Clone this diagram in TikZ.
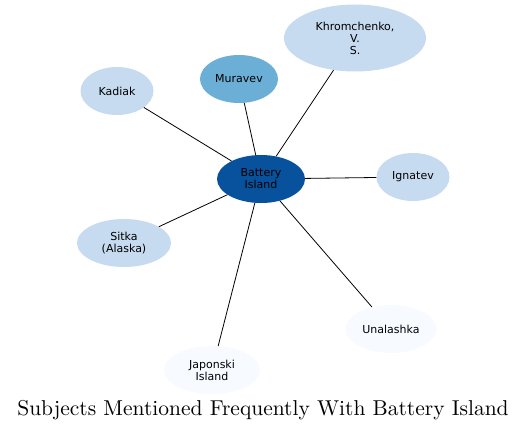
\documentclass[tikz,border=0pt]{standalone}
\usepackage{fontspec}
\newfontfamily\dejavu{DejaVu Sans}
\newfontfamily\titlefont{lmroman10-regular}[Extension=.otf]
\usetikzlibrary{shapes.geometric}

\definecolor{hub}{HTML}{08519C}
\definecolor{mid}{HTML}{6BAED6}
\definecolor{pale}{HTML}{C6DBEF}
\definecolor{faint}{HTML}{F7FBFF}

\tikzset{
  bub/.style={ellipse,inner sep=0pt,align=center,
    font=\dejavu\fontsize{11}{12}\selectfont},
  link/.style={line width=0.8pt}
}

\begin{document}
\begin{tikzpicture}[x=1pt,y=-1pt]
  \useasboundingbox (0,0) rectangle (527,432);
  \node[bub,fill=hub,minimum width=88,minimum height=48] (bat) at (261,179) {Battery\\Island};
  % subjects round the hub
  \foreach \id/\x/\y/\w/\h/\c/\lab in {
      khr/355/38/142/67/pale/{Khromchenko,\\V.\\S.},
      mur/239/79/78/48/mid/{Muravev},
      kad/117/91/73/48/pale/{Kadiak},
      ign/413/177/73/48/pale/{Ignatev},
      sit/124/243/94/48/pale/{Sitka\\(Alaska)},
      una/391/329/91/48/faint/{Unalashka},
      jap/212/370/96/48/faint/{Japonski\\Island}}{
    \node[bub,fill=\c,minimum width=\w,minimum height=\h] (\id) at (\x,\y) {\lab};
    \draw[link] (bat) -- (\id);
  }
  \node[font=\titlefont\fontsize{21.5}{24}\selectfont] (title) at (263,410)
    {Subjects Mentioned Frequently With Battery Island};
\end{tikzpicture}
\end{document}
